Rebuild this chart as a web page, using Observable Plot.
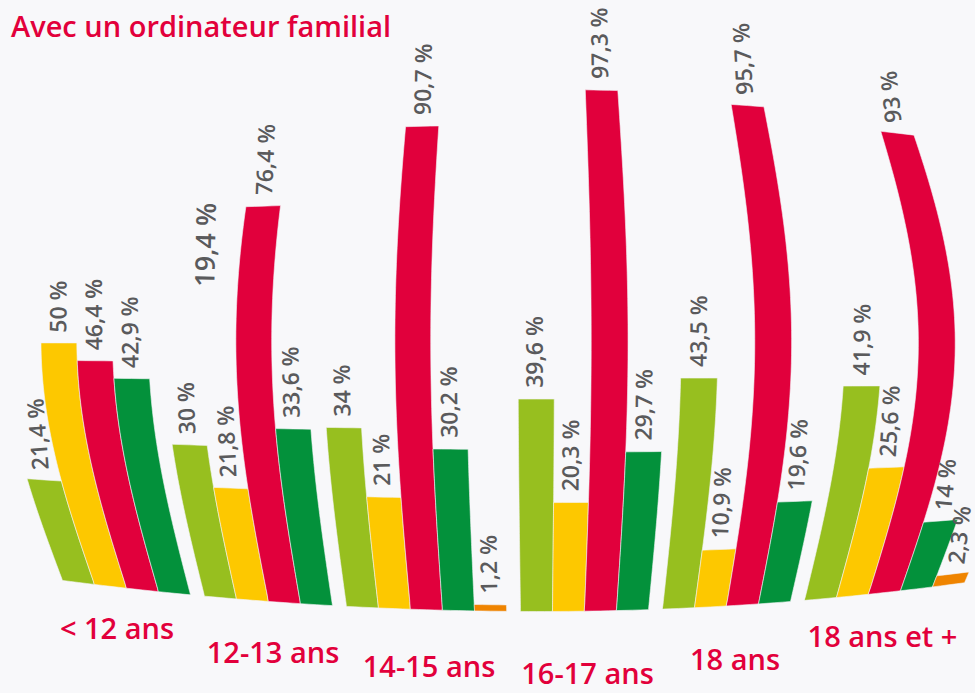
<!DOCTYPE html>
<html>
<head>
<meta charset="utf-8">
<script src="https://cdn.jsdelivr.net/npm/d3@7"></script>
<script src="https://cdn.jsdelivr.net/npm/@observablehq/plot@0.6"></script>
<style>
  html, body { margin: 0; padding: 0; background: #f8f8fa; }
  #title { height: 48px; box-sizing: border-box; padding: 6px 0 0 11px; font: 600 29px/40px "Open Sans", sans-serif; color: #e2003b; white-space: nowrap; }
  #chart svg { display: block; background: #f8f8fa; overflow: visible; }
</style>
</head>
<body>
<div id="title">Avec un ordinateur familial</div>
<div id="chart"></div>
<script>
// ---- data ----
const groups = ["< 12 ans", "12-13 ans", "14-15 ans", "16-17 ans", "18 ans", "18 ans et +"];
const seriesNames = ["Série 1", "Série 2", "Série 3", "Série 4", "Série 5"];
const seriesColors = ["#97bf1f", "#fdc800", "#e1003c", "#03913b", "#ef8400"];
const serie1 = [21.4, 30, 34, 39.6, 43.5, 41.9];
const serie2 = [50, 21.8, 21, 20.3, 10.9, 25.6];
const serie3 = [46.4, 76.4, 90.7, 97.3, 95.7, 93];
const serie4 = [42.9, 33.6, 30.2, 29.7, 19.6, 14];
const serie5 = [null, null, 1.2, null, null, 2.3];
const seriesValues = [serie1, serie2, serie3, serie4, serie5];
// stray label printed in the original beside the 12-13 ans red bar
const extraLabels = [{group: "12-13 ans", slot: 1.1, at: 61, text: "19,4 %"}];

// ---- layout constants ----
const TOP = 48;            // height of the html title block above the svg
const W = 975, H = 693 - TOP;
const GAP = 14 / 32;       // gap between groups, in bar widths
const CX = 540;            // centre of the warp
const K = 5.365;           // px per percent at the centre
const groupLabelDrop = [43, 52, 58, 64, 55, 45];   // px below the baseline
const groupLabelShift = [-9.5, 4.5, 2.5, 3, 8.5, -2]; // px
const TILT = 0.3;          // share of the bar's lean given to its label

// build bars in "slot" units
const bars = [];
const groupInfo = [];
let slot = 0;
groups.forEach((g, gi) => {
  const start = slot + gi * GAP;
  let k = 0;
  seriesValues.forEach((vals, si) => {
    const v = vals[gi];
    if (v == null) return;
    bars.push({group: g, series: seriesNames[si], value: v, p: start + k});
    k++;
  });
  groupInfo.push({name: g, start, n: k, gi});
  slot += k;
});
const totalUnits = slot + (groups.length - 1) * GAP;
const px = d3.scaleLinear().domain([0, totalUnits]).range([62, 964]);

function warp(p, v) {
  const X = px(p), d = X - CX, left = d < 0;
  const base = 611 - (left ? 1.36e-4 : 1.6e-4) * d * d;
  if (v < 0) return [X, base - v * K - TOP];
  const f = 1 - (left ? 5.0e-7 : 6.7e-7) * d * d;
  const A = left ? 0.12 : 0.152;
  const t = Math.min(v, 101) / 101;
  return [X + d * A * Math.sin(Math.PI * t), base - v * K * f - TOP];
}
const projection = d3.geoTransform({
  point(p, v) { const [x, y] = warp(p, v); this.stream.point(x, y); }
});

function barFeature(b) {
  const ring = [], N = 60, p0 = b.p, p1 = b.p + 1, v = b.value;
  for (let i = 0; i <= 4; i++) ring.push([p0 + i / 4, 0]);
  for (let i = 1; i <= N; i++) ring.push([p1, v * i / N]);
  for (let i = 1; i <= 4; i++) ring.push([p1 - i / 4, v]);
  for (let i = 1; i <= N; i++) ring.push([p0, v - v * i / N]);
  return {type: "Feature", properties: b, geometry: {type: "Polygon", coordinates: [ring]}};
}
const features = bars.map(barFeature);

const fmt = (v) => String(v).replace(".", ",") + " %";
function angle(p, v) {
  const [x0, y0] = warp(p, v), [x1, y1] = warp(p, v + 0.5);
  const a = Math.atan2(y1 - y0, x1 - x0) * 180 / Math.PI;
  return -90 + (a + 90) * TILT;
}
const LGAP = 2.1;
const valueLabels = bars.map(b => ({p: b.p + 0.5, v: b.value + LGAP, text: fmt(b.value), size: 23}));
extraLabels.forEach(e => {
  const g = groupInfo[groups.indexOf(e.group)];
  valueLabels.push({p: g.start + e.slot, v: e.at, text: e.text, size: 27});
});
const groupLabels = groupInfo.map(g => ({
  name: g.name,
  p: g.start + g.n / 2 + groupLabelShift[g.gi] / 32,
  v: -groupLabelDrop[g.gi] / K
}));

const chart = Plot.plot({
  width: W, height: H,
  margin: 0,
  projection,
  color: {domain: seriesNames, range: seriesColors},
  style: {background: "#f8f8fa", fontFamily: "Open Sans, sans-serif", overflow: "visible"},
  marks: [
    Plot.geo(features, {fill: d => d.properties.series, stroke: "#f4f4f6", strokeWidth: 0.6}),
    Plot.text(valueLabels, {
      x: "p", y: "v", text: "text",
      rotate: d => angle(d.p, d.v),
      textAnchor: "start", lineAnchor: "middle",
      fontSize: d => d.size, fontWeight: 600, fill: "#5a5a5c"
    }),
    Plot.text(groupLabels, {
      x: "p", y: "v", text: "name",
      fontSize: 29, fontWeight: 600, fill: "#e2003b", lineAnchor: "middle"
    })
  ]
});
document.getElementById("chart").appendChild(chart);
</script>
</body>
</html>
